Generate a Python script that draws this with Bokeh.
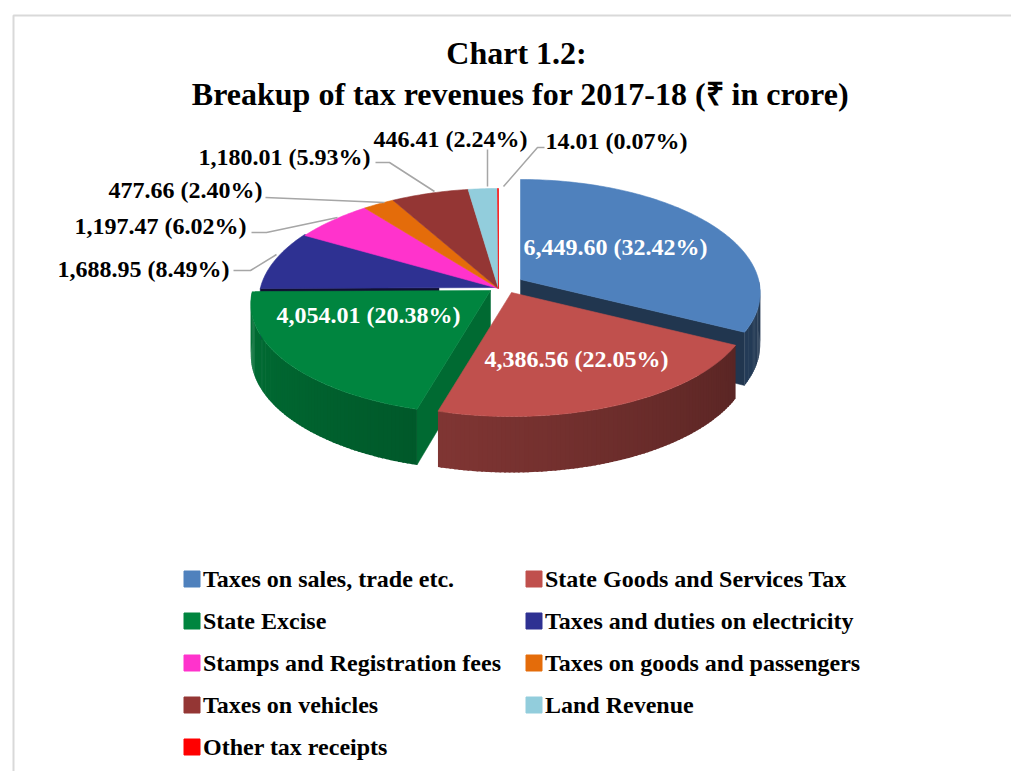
import numpy as np
from bokeh.plotting import figure
from bokeh.models import Range1d
from bokeh.core.properties import value
from bokeh.embed import file_html
from bokeh.resources import INLINE

# ---------------- data ----------------
categories = ["Taxes on sales, trade etc.", "State Goods and Services Tax", "State Excise",
              "Taxes and duties on electricity", "Stamps and Registration fees",
              "Taxes on goods and passengers", "Taxes on vehicles", "Land Revenue",
              "Other tax receipts"]
values = [6449.60, 4386.56, 4054.01, 1688.95, 1197.47, 477.66, 1180.01, 446.41, 14.01]
percents = [32.42, 22.05, 20.38, 8.49, 6.02, 2.40, 5.93, 2.24, 0.07]
colors = ["#4F81BD", "#C0504D", "#00853F", "#2E3192", "#FF33CC", "#E46C0A", "#943634", "#92CDDC", "#FF0000"]
title_lines = ["Chart 1.2:", "Breakup of tax revenues for 2017-18 (\u20b9 in crore)"]

labels = ["{:,.2f} ({:.2f}%)".format(v, pc) for v, pc in zip(values, percents)]

# ---------------- layout / style ----------------
W, H = 1011, 771
FONT = value("Liberation Serif")
CX, CY = 498.0, 288.0
R = 238.0
PX = 0.12
RY0, RY1 = 112.0, 12.0
D0, D1 = 51.0, 5.0
offsets = [(22, -9), (13, 4), (-8, 2), (0, -1), (0, 0), (0, 0), (0, 0), (0, 0), (0, 0)]
face_r_in = [0.0, 0.0, 0.0, 0.25, 0.0, 0.0, 0.0, 0.0, 0.0]
start_face_f = [0.8, 0.8, 0.8, 0.35, 0.8, 0.8, 0.8, 0.8, 0.8]
end_face_f = 0.42


def proj(theta, r, off, down=False):
    t = np.radians(theta)
    u = r * np.sin(t)
    v = -r * np.cos(t)
    x = CX + off[0] + R * u * (1 + PX * v)
    y = CY + off[1] + v * (RY0 + RY1 * v)
    if down:
        y = y + D0 + D1 * v
    return x, y


def shade(hexc, f):
    h = hexc.lstrip("#")
    rgb = [int(h[i:i + 2], 16) for i in (0, 2, 4)]
    return "#%02x%02x%02x" % tuple(max(0, min(255, int(round(c * f)))) for c in rgb)


p = figure(width=W, height=H, x_range=Range1d(0, W), y_range=Range1d(H, 0),
           output_backend="svg", toolbar_location=None, min_border=0,
           x_axis_type=None, y_axis_type=None)
p.grid.visible = False
p.outline_line_color = None
p.background_fill_color = "white"
p.border_fill_color = "white"

# frame border
p.line([13, 13, W + 5], [H + 5, 15, 15], line_color="#d9d9d9", line_width=2)

total = float(sum(values))
cum = np.concatenate([[0.0], np.cumsum(values)]) / total * 360.0

# radial cut faces (only exploded slices show them)
rx, ry, rc = [], [], []
for i in range(len(values)):
    off = offsets[i]
    if off == (0, 0):
        continue
    a0, a1 = cum[i], cum[i + 1]
    r0 = face_r_in[i]
    for ang, vis, f in ((a0, np.sin(np.radians(a0)) < -1e-6, start_face_f[i]),
                        (a1, np.sin(np.radians(a1)) > 1e-6, end_face_f)):
        if not vis:
            continue
        x0, y0 = proj(ang, r0, off)
        x1, y1 = proj(ang, 1, off)
        x2, y2 = proj(ang, 1, off, True)
        x3, y3 = proj(ang, r0, off, True)
        rx.append([x0, x1, x2, x3])
        ry.append([y0, y1, y2, y3])
        rc.append(shade(colors[i], f))
p.patches(rx, ry, fill_color=rc, line_color=rc, line_width=0.5)

# outer rim walls
wx, wy, wc = [], [], []
for i in range(len(values)):
    a0, a1 = max(cum[i], 90.0), min(cum[i + 1], 270.0)
    if a1 <= a0:
        continue
    n = max(1, int(np.ceil((a1 - a0) / 1.0)))
    edges = np.linspace(a0, a1, n + 1)
    for j, (t0, t1) in enumerate(zip(edges[:-1], edges[1:])):
        t1e = min(t1 + 0.4, a1)
        xa, ya = proj(t0, 1, offsets[i])
        xb, yb = proj(t1e, 1, offsets[i])
        xc, yc = proj(t1e, 1, offsets[i], True)
        xd, yd = proj(t0, 1, offsets[i], True)
        tm = 0.5 * (t0 + t1)
        f = 0.40 + 0.45 * (tm - 90.0) / 180.0
        wx.append([xa, xb, xc, xd])
        wy.append([ya, yb, yc, yd])
        wc.append(shade(colors[i], f))
p.patches(wx, wy, fill_color=wc, line_color=None)

# top faces
tx, ty = [], []
for i in range(len(values)):
    a0, a1 = cum[i], cum[i + 1]
    n = max(2, int(np.ceil(a1 - a0)) + 1)
    arc = np.linspace(a0, a1, n)
    ax, ay = proj(arc, 1, offsets[i])
    cx0, cy0 = proj(0.0, 0, offsets[i])
    tx.append([cx0] + list(ax))
    ty.append([cy0] + list(ay))
p.patches(tx, ty, fill_color=colors, line_color=colors, line_width=0.6)

# inside labels (white)
inside = {0: (615, 246), 1: (576, 358), 2: (368, 314)}
for i, (x, y) in inside.items():
    p.text([x], [y], text=[labels[i]], text_color="white", text_font=FONT,
           text_font_style="bold", text_font_size="24px", text_align="center",
           text_baseline="middle")

# outside labels: (index, x, y, align)
outside = [(3, 229, 268, "right"), (4, 246, 225, "right"), (5, 262, 189, "right"),
           (6, 370, 156, "right"), (7, 450, 138, "center"), (8, 545, 140, "left")]
for i, x, y, al in outside:
    p.text([x], [y], text=[labels[i]], text_color="black", text_font=FONT,
           text_font_style="bold", text_font_size="24px", text_align=al,
           text_baseline="middle")

leaders_x = [[233, 250, 276], [251, 266, 337], [265, 384], [375, 389, 434], [487, 487], [544, 537, 503]]
leaders_y = [[270, 270, 254], [232, 232, 217], [197, 202], [162, 162, 191], [149, 186], [147, 147, 186]]
p.multi_line(leaders_x, leaders_y, line_color="#a6a6a6", line_width=1.5)

# title
p.text([516], [52], text=[title_lines[0]], text_font=FONT, text_font_style="bold",
       text_font_size="32px", text_align="center", text_baseline="middle", text_color="black")
p.text([520], [93], text=[title_lines[1]], text_font=FONT, text_font_style="bold",
       text_font_size="32px", text_align="center", text_baseline="middle", text_color="black")

# legend
leg_x = [191.5, 533.5]
leg_y0, leg_dy = 578.5, 42
mx, my, lx, ly = [], [], [], []
for k in range(len(categories)):
    col, row = k % 2, k // 2
    mx.append(leg_x[col])
    my.append(leg_y0 + row * leg_dy)
    lx.append(leg_x[col] + 11)
    ly.append(leg_y0 + row * leg_dy)
p.rect(mx, my, width=16, height=16, fill_color=colors, line_color=colors, line_width=1)
p.text(lx, ly, text=categories, text_font=FONT, text_font_style="bold", text_font_size="24px",
       text_align="left", text_baseline="middle", text_color="black")

open("out.html", "w").write(file_html(p, INLINE))
